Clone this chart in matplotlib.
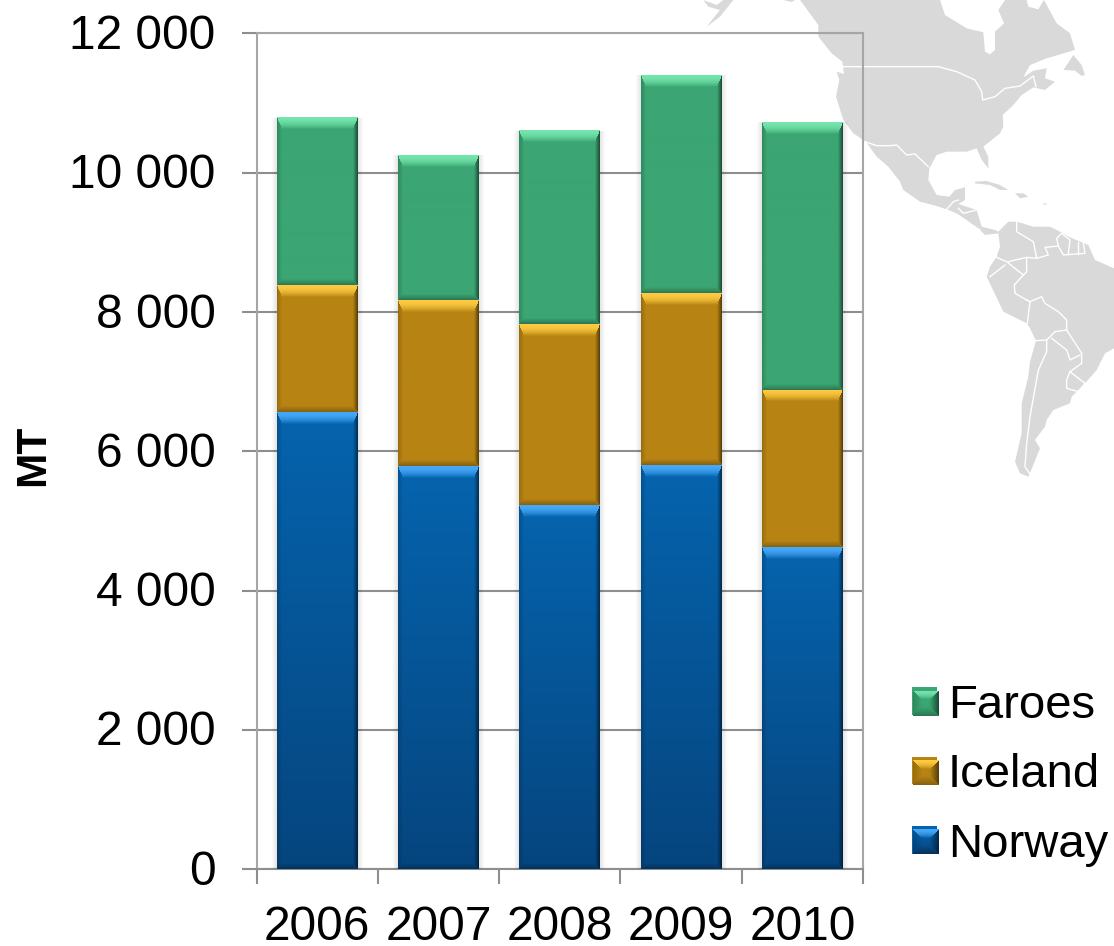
import matplotlib
matplotlib.use("Agg")
import matplotlib.pyplot as plt
from matplotlib.patches import Polygon
from matplotlib.transforms import ScaledTranslation
import numpy as np

years = ["2006", "2007", "2008", "2009", "2010"]
norway = [6563, 5788, 5228, 5802, 4624]
iceland = [1824, 2384, 2599, 2470, 2255]
faroes = [2399, 2082, 2772, 3131, 3849]
y_ticks = [0, 2000, 4000, 6000, 8000, 10000, 12000]

# Colores: cara arriba, cara abajo, bisel claro superior
series = [
    ("Norway", norway, "#0564AE", "#06457E", "#46A8F8"),
    ("Iceland", iceland, "#B78413", "#B78413", "#FFCB42"),
    ("Faroes", faroes, "#3BA573", "#3BA573", "#74E6AC"),
]

# Mapa de fondo, trazado a mano (coordenadas del recorte 3x)
america = [(360,0),(780,0),(795,45),(860,85),(910,97),(915,155),(930,163),(945,150),(945,95),(972,70),(955,30),(975,0),
           (1040,0),(1045,20),(1075,28),(1092,0),(1130,70),(1170,100),(1185,150),(1100,175),(1050,195),(1030,232),
           (1060,212),(1100,205),(1095,235),(1125,245),(1095,270),(1060,262),(1025,285),(1000,315),(968,345),(970,380),
           (960,400),(910,440),(925,470),(925,505),(905,480),(890,445),(860,455),(800,455),(770,465),(748,505),(745,540),
           (770,585),(808,590),(825,570),(855,562),(855,600),(835,612),(890,630),(905,680),(945,690),(955,695),
           (985,665),(1010,665),(1060,680),(1110,680),(1140,695),(1165,710),(1225,735),(1245,780),(1302,805),(1302,1045),
           (1275,1060),(1250,1110),(1215,1150),(1195,1170),(1175,1190),(1170,1210),(1120,1230),(1100,1260),(1095,1280),
           (1065,1320),(1080,1345),(1060,1395),(1045,1430),(1020,1420),(1005,1385),(1025,1300),(1025,1210),(1045,1130),
           (1050,1085),(1068,1022),(1050,985),(1040,970),(970,935),(920,830),(930,800),(950,770),(960,740),(955,700),
           (915,705),(905,695),(860,660),(830,640),(805,630),(770,618),(720,605),(670,570),(660,545),(625,500),(590,470),
           (560,428),(550,420),(520,400),(490,360),(468,290),(478,240),(470,215),(492,222),(487,185),(455,160),(415,110),(415,75)]
islas = [
    [(885,545),(920,543),(960,555),(985,570),(960,570),(930,555),(885,550)],
    [(1005,580),(1030,580),(1045,590),(1020,595)],
    [(1090,610),(1100,610),(1100,614),(1090,613)],
    [(1180,165),(1150,210),(1185,212),(1205,228),(1215,225),(1205,195)],
    [(70,0),(110,15),(130,0),(160,0),(120,50),(80,80),(120,30),(85,20)],
    [(310,0),(345,0),(335,6)],
]
fronteras = [
    [(490,200),(775,200),(830,215),(885,240),(905,275),(908,300),(945,290),(975,265),(1020,258),(1060,228),(1068,260)],
    [(555,425),(590,437),(630,437),(650,435),(680,465),(705,462),(745,500)],
    [(565,440),(610,520)],
    [(800,628),(820,605),(835,600)],
    [(835,625),(850,640),(890,630)],
    [(860,665),(900,690)],
    [(1010,665),(1010,695),(1060,725),(1070,775),(1105,765),(1095,742),(1135,738),(1150,765),(1215,760),(1210,730)],
    [(1135,738),(1130,715),(1145,700),(1170,720),(1165,760)],
    [(1195,725),(1195,762)],
    [(945,770),(980,785),(1030,825),(1003,855),(1005,880),(1040,900)],
    [(930,830),(975,795)],
    [(985,785),(1040,772),(1070,775)],
    [(1040,775),(1040,815),(1030,825)],
    [(1050,905),(1042,970)],
    [(1040,900),(1050,905),(1085,890),(1095,910),(1135,935),(1160,960),(1160,990)],
    [(1100,1020),(1125,995),(1160,990),(1205,1060),(1205,1090),(1170,1115),(1160,1140),(1160,1165),(1195,1175),(1215,1150),(1170,1115)],
    [(1115,1015),(1160,1050),(1170,1080),(1200,1065)],
    [(1068,1022),(1100,1020),(1100,1055),(1075,1110),(1050,1250),(1040,1330),(1035,1400),(1055,1430)],
]


def a_px(puntos):
    return [(680 + x / 3, y / 3) for x, y in puntos]


def hex_rgb(c):
    return np.array(matplotlib.colors.to_rgb(c))


# Imagen de un segmento con bisel; w y h en pixeles
def biselado(w, h, arriba, abajo, claro, top=12, lado=5, base=6):
    w, h = max(int(round(w)), 2), max(int(round(h)), 2)
    yy, xx = np.mgrid[0:h, 0:w] + 0.5
    frac = (yy / h)[..., None]
    cara = hex_rgb(arriba) * (1 - frac) + hex_rgb(abajo) * frac
    img = cara.copy()
    dist = np.stack([yy / top, (h - yy) / base, xx / lado, (w - xx) / lado])
    zona = dist.argmin(axis=0)
    t = np.clip(dist.min(axis=0), 0, 1)[..., None]
    bordes = [
        np.ones_like(cara) * hex_rgb(claro),
        cara * 0.72,
        cara * 0.82,
        cara * 0.45,
    ]
    for i, borde in enumerate(bordes):
        # el bisel de arriba mantiene el brillo un poco mas
        peso = t ** 2 if i == 0 else t
        mezcla = borde * (1 - peso) + cara * peso
        img = np.where((zona == i)[..., None], mezcla, img)
    return np.clip(img, 0, 1)


plt.rcParams["font.family"] = ["Liberation Sans", "DejaVu Sans"]
fig = plt.figure(figsize=(11.14, 9.46), dpi=100)
W, H = 1114, 946

# El mapa va detras del grafico
fondo = fig.add_axes([0, 0, 1, 1], zorder=0)
fondo.set_xlim(0, W)
fondo.set_ylim(H, 0)
fondo.axis("off")
fondo.add_patch(Polygon(a_px(america), closed=True, fc="#D9D9D9", ec="none"))
for isla in islas:
    fondo.add_patch(Polygon(a_px(isla), closed=True, fc="#D9D9D9", ec="none"))
for linea in fronteras:
    pts = np.array(a_px(linea))
    fondo.plot(pts[:, 0], pts[:, 1], color="white", lw=1.0, solid_joinstyle="round")

ax = fig.add_axes([256.5 / W, (H - 869) / H, (863 - 256.5) / W, (869 - 33.5) / H], zorder=1)
ax.patch.set_alpha(0)

x = np.arange(len(years))
ancho = 0.667
px_x = (863 - 256.5) / len(years)
px_y = (869 - 33.5) / 12000
abajo = np.zeros(len(years))
handles = []
for nombre, valores, c1, c2, claro in series:
    valores = np.array(valores)
    # sombra suave alrededor de la barra
    for i in range(1, 6):
        ax.bar(x, valores, ancho + 2 * i / px_x, bottom=abajo, color="black", alpha=0.018, zorder=2, lw=0)
    barras = ax.bar(x, valores, ancho, bottom=abajo, color=c1, label=nombre, zorder=3)
    handles.append(barras)
    for b in barras:
        img = biselado(b.get_width() * px_x, b.get_height() * px_y, c1, c2, claro)
        ax.imshow(img, extent=(b.get_x(), b.get_x() + b.get_width(), b.get_y(), b.get_y() + b.get_height()),
                  origin="upper", aspect="auto", zorder=4, interpolation="nearest")
    abajo = abajo + valores

ax.set_xlim(-0.5, len(years) - 0.5)
ax.set_ylim(0, 12000)
ax.set_yticks(y_ticks)
ax.set_yticklabels([f"{v:,}".replace(",", " ") for v in y_ticks], fontsize=34.5)
ax.set_xticks(np.arange(len(years) + 1) - 0.5)
ax.set_xticklabels([])
ax.set_xticks(x, years, minor=True, fontsize=34.5)
ax.tick_params(axis="x", which="minor", length=0, pad=26)
ax.tick_params(axis="x", which="major", length=10.5, width=1.5, color="#8E8E8E")
ax.tick_params(axis="y", length=10.5, width=1.5, color="#8E8E8E", pad=19)
ax.yaxis.grid(True, color="#8E8E8E", lw=1.5, zorder=1)
ax.set_axisbelow(True)
for lado, spine in ax.spines.items():
    spine.set_color("#A6A6A6" if lado in ("top", "right", "left") else "#8E8E8E")
    spine.set_linewidth(1.5)
    spine.set_zorder(1.5)
# Subo un poco las etiquetas del eje y
subir = ScaledTranslation(0, 2 / 100, fig.dpi_scale_trans)
for etiqueta in ax.get_yticklabels():
    etiqueta.set_transform(etiqueta.get_transform() + subir)
fig.text(33 / W, 1 - 455 / H, "MT", rotation=90, fontsize=30.5, fontweight="bold", ha="center", va="center")

leyenda = ax.legend(handles[::-1], [s[0] for s in series[::-1]], loc="lower left",
                    bbox_to_anchor=(912 / W, (H - 866.5) / H), bbox_transform=fig.transFigure,
                    frameon=False, fontsize=34, handlelength=0.53, handleheight=0.53,
                    handletextpad=0.23, labelspacing=0.535, borderpad=0, borderaxespad=0)

# Los cuadritos de la leyenda llevan el mismo bisel
fig.canvas.draw()
for parche, (nombre, valores, c1, c2, claro) in zip(leyenda.get_patches(), series[::-1]):
    caja = parche.get_window_extent()
    cx, cy = caja.x0 + caja.width / 2 + 0.5, caja.y0 + caja.height / 2 - 2
    cuadro = fig.add_axes([(cx - 12.5) / W, (cy - 12.5) / H, 25 / W, 25 / H], zorder=3)
    cuadro.imshow(biselado(25, 25, c1, c2, claro, top=9, lado=9, base=9), aspect="auto")
    cuadro.axis("off")

fig.savefig("out.png", dpi=100)
